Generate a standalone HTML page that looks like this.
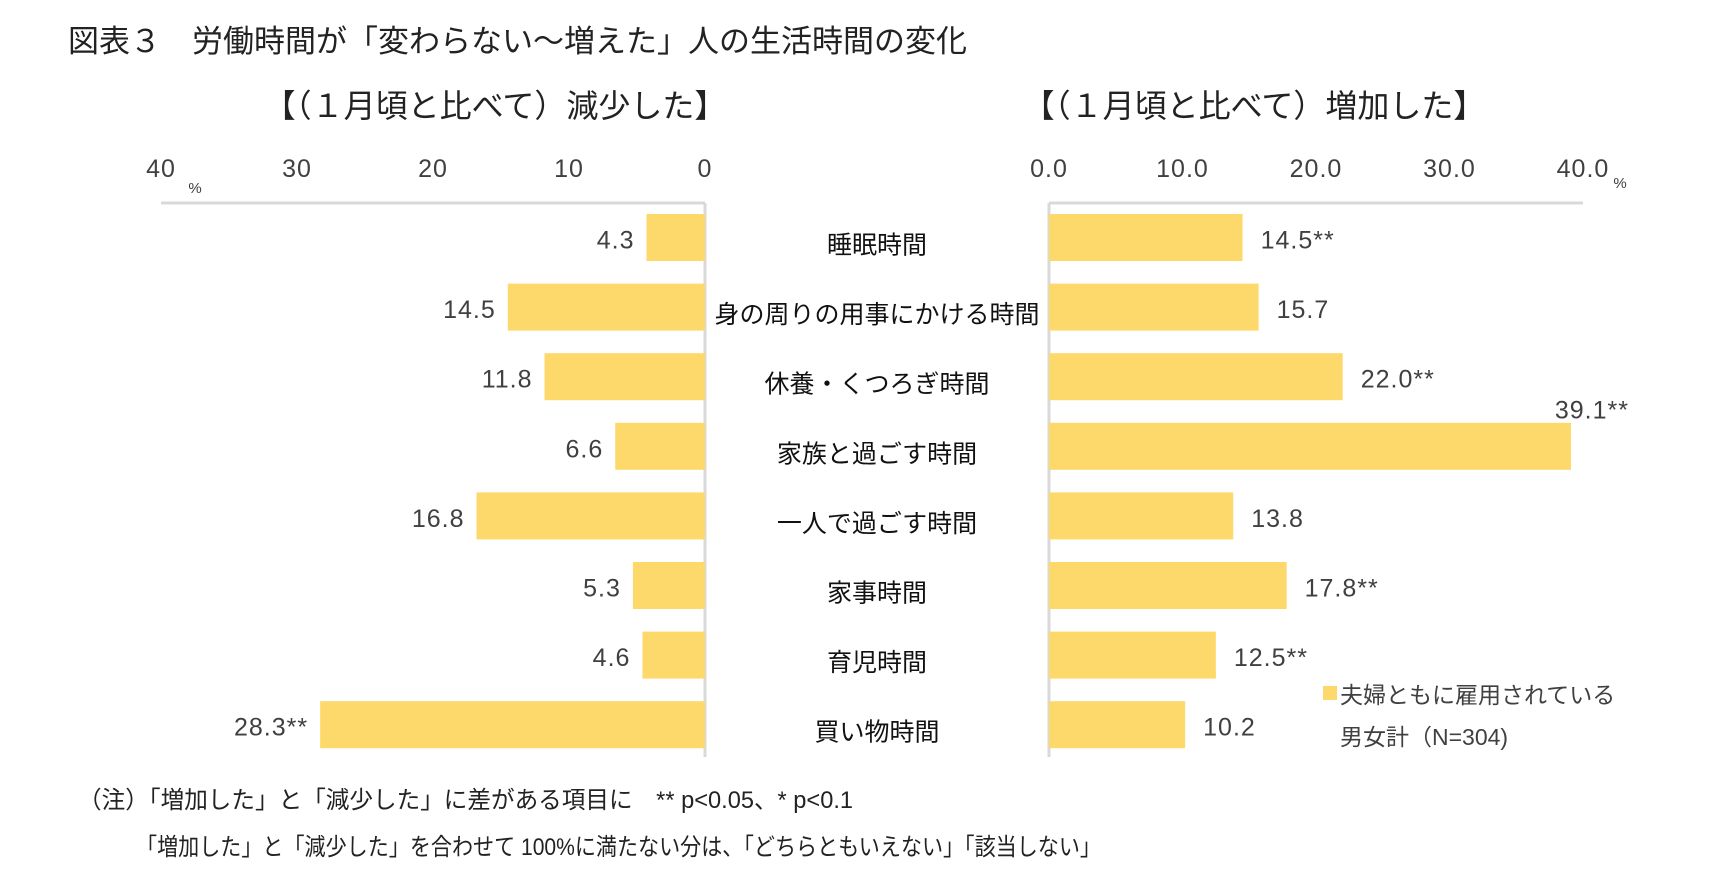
<!DOCTYPE html>
<html><head><meta charset="utf-8">
<style>
body{margin:0;background:#fff;}
svg{display:block;font-family:"Liberation Sans","Noto Sans CJK JP",sans-serif;}
</style></head>
<body>
<svg id="chart" width="1725" height="889" viewBox="0 0 1725 889" xmlns="http://www.w3.org/2000/svg">
<text x="68" y="52" font-size="31" fill="#222">図表３　労働時間が「変わらない～増えた」人の生活時間の変化</text>
<text x="495" y="117" font-size="32" fill="#222" text-anchor="middle">【（１月頃と比べて）減少した】</text>
<text x="1254" y="117" font-size="32" fill="#222" text-anchor="middle">【（１月頃と比べて）増加した】</text>
<g id="axes"></g>
<g id="bars"></g>
<rect x="1323" y="686" width="14" height="14" fill="#FCD96A"/>
<text x="1340" y="703" font-size="23" fill="#404040">夫婦ともに雇用されている</text>
<text x="1340" y="745" font-size="23" fill="#404040">男女計（N=304)</text>
<text x="78" y="808" font-size="24" fill="#222" textLength="775" lengthAdjust="spacingAndGlyphs">（注）「増加した」と「減少した」に差がある項目に　** p&lt;0.05、* p&lt;0.1</text>
<text x="136" y="855" font-size="24" fill="#222" textLength="965" lengthAdjust="spacingAndGlyphs">「増加した」と「減少した」を合わせて 100%に満たない分は、「どちらともいえない」「該当しない」</text>
</svg>
<script>
const categories=["睡眠時間","身の周りの用事にかける時間","休養・くつろぎ時間","家族と過ごす時間","一人で過ごす時間","家事時間","育児時間","買い物時間"];
const decreased=[4.3,14.5,11.8,6.6,16.8,5.3,4.6,28.3];
const decreasedLabels=["4.3","14.5","11.8","6.6","16.8","5.3","4.6","28.3**"];
const increased=[14.5,15.7,22.0,39.1,13.8,17.8,12.5,10.2];
const increasedLabels=["14.5**","15.7","22.0**","39.1**","13.8","17.8**","12.5**","10.2"];
const leftTicks=[40,30,20,10,0];
const rightTicks=["0.0","10.0","20.0","30.0","40.0"];

const NS="http://www.w3.org/2000/svg";
const L0=705,LPX=13.6,R0=1049,RPX=13.35,TOP=203,BOT=757,ROW0=237.5,ROWH=69.6,BH=47;
const xl=v=>L0-v*LPX, xr=v=>R0+v*RPX, yc=i=>ROW0+i*ROWH;
function el(tag,attrs,parent,txt){const e=document.createElementNS(NS,tag);for(const k in attrs)e.setAttribute(k,attrs[k]);if(txt!==undefined)e.textContent=txt;parent.appendChild(e);return e;}
const ax=document.getElementById('axes'),bg=document.getElementById('bars');
let e;
e=el('line',{x1:xl(40),x2:L0,y1:TOP,y2:TOP,stroke:'#d9d9d9','stroke-width':3},ax);


e=el('line',{x1:L0,x2:L0,y1:TOP,y2:BOT,stroke:'#d9d9d9','stroke-width':3},ax);


e=el('line',{x1:R0,x2:xr(40),y1:TOP,y2:TOP,stroke:'#d9d9d9','stroke-width':3},ax);


e=el('line',{x1:R0,x2:R0,y1:TOP,y2:BOT,stroke:'#d9d9d9','stroke-width':3},ax);


leftTicks.forEach(t=>{e=el('text',{x:xl(t),y:177,'font-size':25,fill:'#404040','text-anchor':'middle','letter-spacing':1},ax,String(t));

});
rightTicks.forEach(t=>{e=el('text',{x:xr(parseFloat(t)),y:177,'font-size':25,fill:'#404040','text-anchor':'middle','letter-spacing':1},ax,t);

});
e=el('text',{x:195,y:193,'font-size':15,fill:'#404040','text-anchor':'middle'},ax,'%');


e=el('text',{x:1620,y:188,'font-size':15,fill:'#404040','text-anchor':'middle'},ax,'%');


categories.forEach((c,i)=>{
  const y=yc(i);
  e=el('rect',{x:xl(decreased[i]),y:y-BH/2,width:decreased[i]*LPX,height:BH,fill:'#FCD96A'},bg);
  
  
  e=el('text',{x:xl(decreased[i])-12,y:y+11,'font-size':25,fill:'#404040','text-anchor':'end','letter-spacing':1},bg,decreasedLabels[i]);
  
  
  e=el('rect',{x:R0,y:y-BH/2,width:increased[i]*RPX,height:BH,fill:'#FCD96A'},bg);
  
  
  const over=xr(increased[i])+130>1700;
  e=el('text',over?{x:xr(increased[i])+58,y:y-28,'font-size':25,fill:'#404040','text-anchor':'end','letter-spacing':1}:{x:xr(increased[i])+18,y:y+11,'font-size':25,fill:'#404040','letter-spacing':1},bg,increasedLabels[i]);
  
  
  e=el('text',{x:877,y:y+16,'font-size':25,fill:'#111','text-anchor':'middle'},bg,c);
  
  
});
</script>
</body></html>
